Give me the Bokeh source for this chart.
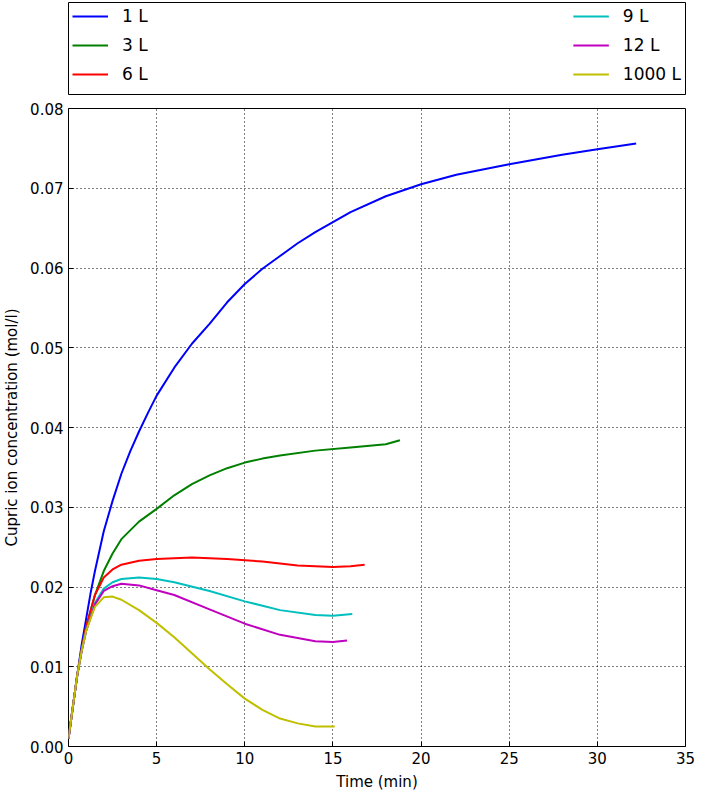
from bokeh.embed import file_html
from bokeh.layouts import column
from bokeh.models import Legend, LegendItem, FixedTicker, Range1d, NumeralTickFormatter
from bokeh.plotting import figure
from bokeh.resources import INLINE

FONT = "DejaVu Sans"

t_1 = [0, 0.25, 0.5, 0.75, 1, 1.25, 1.5, 2, 2.5, 3, 3.5, 4, 4.5, 5, 6, 7, 8, 9, 10, 11, 12, 13, 14, 16, 18,
       20, 22, 25, 28, 30, 32.2]
c_1 = [0.001, 0.005, 0.009, 0.0128, 0.016, 0.0192, 0.022, 0.027, 0.0308, 0.0342, 0.037, 0.0395, 0.0418,
       0.044, 0.0475, 0.0505, 0.053, 0.0557, 0.058, 0.0599, 0.0615, 0.0631, 0.0645, 0.067, 0.069,
       0.0705, 0.0717, 0.073, 0.0742, 0.0749, 0.0756]
t_3 = [0, 0.25, 0.5, 0.75, 1, 1.5, 2, 2.5, 3, 4, 5, 6, 7, 8, 9, 10, 11, 12, 14, 16, 18, 18.8]
c_3 = [0.001, 0.005, 0.009, 0.0122, 0.015, 0.019, 0.022, 0.0242, 0.026, 0.0282, 0.0298, 0.0315, 0.0329,
       0.034, 0.0349, 0.0356, 0.0361, 0.0365, 0.0371, 0.0375, 0.0379, 0.0384]
t_6 = [0, 0.25, 0.5, 0.75, 1, 1.5, 2, 2.5, 3, 4, 5, 7, 9, 11, 13, 15, 16, 16.8]
c_6 = [0.001, 0.005, 0.009, 0.0122, 0.015, 0.019, 0.0212, 0.0222, 0.0228, 0.0233, 0.0235, 0.0237,
       0.0235, 0.0232, 0.0227, 0.0225, 0.0226, 0.0228]
t_9 = [0, 0.25, 0.5, 0.75, 1, 1.5, 2, 2.5, 3, 4, 5, 6, 8, 10, 12, 14, 15, 16.1]
c_9 = [0.001, 0.005, 0.009, 0.012, 0.0145, 0.018, 0.0198, 0.0206, 0.021, 0.0212, 0.021, 0.0206,
       0.0195, 0.0182, 0.0171, 0.0165, 0.0164, 0.0166]
t_12 = [0, 0.25, 0.5, 0.75, 1, 1.5, 2, 2.5, 3, 4, 5, 6, 8, 10, 12, 14, 15, 15.8]
c_12 = [0.001, 0.005, 0.009, 0.012, 0.0145, 0.0178, 0.0195, 0.0201, 0.0204, 0.0202, 0.0196, 0.019,
        0.0172, 0.0154, 0.014, 0.0132, 0.0131, 0.0133]
t_1000 = [0, 0.25, 0.5, 0.75, 1, 1.5, 2, 2.5, 3, 4, 5, 6, 7, 8, 9, 10, 11, 12, 13, 14, 15.1]
c_1000 = [0.001, 0.005, 0.009, 0.012, 0.0145, 0.0175, 0.0187, 0.0188, 0.0184, 0.0171, 0.0155, 0.0137,
          0.0117, 0.0097, 0.0078, 0.006, 0.0046, 0.0035, 0.0029, 0.0025, 0.0025]

labels = ["1 L", "3 L", "6 L", "9 L", "12 L", "1000 L"]
colors = ["#0000ff", "#008000", "#ff0000", "#00bfbf", "#bf00bf", "#bfbf00"]
series = [(t_1, c_1), (t_3, c_3), (t_6, c_6), (t_9, c_9), (t_12, c_12), (t_1000, c_1000)]

# legend panel on top
top = figure(width=695, height=95, min_border_left=64, min_border_right=10, min_border_top=2,
             min_border_bottom=0, x_range=(0, 1), y_range=(0, 1), output_backend="svg",
             toolbar_location=None)
top.axis.visible = False
top.grid.visible = False
top.outline_line_color = "black"
top.outline_line_alpha = 1
top_items = []
for lab, col in zip(labels, colors):
    r = top.line(x=[-5, -4], y=[-5, -5], line_color=col, line_width=2)
    top_items.append(LegendItem(label=lab, renderers=[r]))
for items, loc in [(top_items[:3], "top_left"), (top_items[3:], "top_right")]:
    lg = Legend(items=items, location=loc, border_line_color=None, background_fill_alpha=0,
                label_text_font=FONT, label_text_font_size="17px", label_text_color="black",
                glyph_width=36, glyph_height=20, spacing=9, label_standoff=14,
                margin=4, padding=6)
    top.add_layout(lg, "center")

p = figure(width=695, height=698, min_border_left=64, min_border_right=10, min_border_top=13,
           x_range=Range1d(0, 35), y_range=Range1d(0, 0.08), output_backend="svg",
           toolbar_location=None)
for (t, c), col in zip(series, colors):
    p.line(t, c, line_color=col, line_width=2)

p.xaxis.axis_label = "Time (min)"
p.yaxis.axis_label = "Cupric ion concentration (mol/l)"
p.xaxis.ticker = FixedTicker(ticks=list(range(0, 36, 5)))
p.yaxis.ticker = FixedTicker(ticks=[i / 100 for i in range(9)])
p.yaxis.formatter = NumeralTickFormatter(format="0.00")
for ax in p.axis:
    ax.major_tick_in = 5
    ax.major_tick_out = 0
    ax.minor_tick_line_color = None
    ax.axis_line_color = None
    ax.major_tick_line_color = "black"
    ax.major_label_text_font = FONT
    ax.major_label_text_font_size = "15px"
    ax.major_label_text_color = "black"
    ax.axis_label_text_font = FONT
    ax.axis_label_text_font_size = "15px"
    ax.axis_label_text_font_style = "normal"
    ax.axis_label_text_color = "black"
    ax.axis_label_standoff = 6
p.outline_line_color = "black"
p.outline_line_alpha = 1
p.grid.grid_line_color = "black"
p.grid.grid_line_dash = "1 3"
p.grid.grid_line_alpha = 1

layout = column(top, p, spacing=0)
open("out.html", "w").write(file_html(layout, INLINE))
